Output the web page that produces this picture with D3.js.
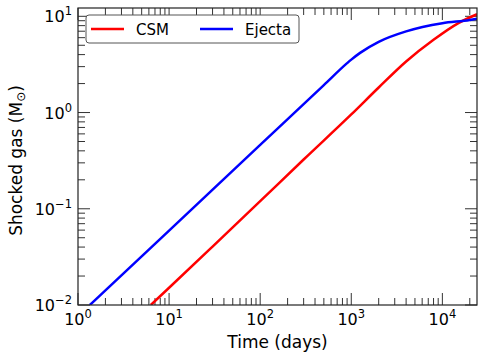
<!DOCTYPE html>
<html>
<head>
<meta charset="utf-8">
<script src="https://cdn.jsdelivr.net/npm/d3@7"></script>
<style>
  body { margin: 0; background: #fff; overflow: hidden; }
  svg { display: block; }
  text { font-family: "DejaVu Sans", sans-serif; fill: #000; }
</style>
</head>
<body>
<svg id="chart"></svg>
<script>
// data (time in days, mass in solar masses)
const csmTime = [6.3, 10, 30, 100, 300, 1000, 2000, 4000, 8000, 15000, 24000];
const csmMass = [0.01, 0.0151, 0.0405, 0.120, 0.325, 0.955, 1.82, 3.39, 5.7, 8.5, 10.5];
const ejectaTime = [1.35, 10, 100, 500, 900, 1000, 1250, 2000, 4000, 10000, 20000, 24000];
const ejectaMass = [0.01, 0.0594, 0.461, 1.93, 3.26, 3.55, 4.17, 5.43, 6.97, 8.47, 9.16, 9.44];
const seriesNames = ["CSM", "Ejecta"];
const seriesColors = ["#ff0000", "#0000ff"];
const xMajor = [0, 1, 2, 3, 4];
const yMajor = [-2, -1, 0, 1];

// dimensions
const width = 485;
const height = 357;
const margin = {top: 8, right: 8, bottom: 52, left: 78};
const innerWidth = width - margin.left - margin.right;
const innerHeight = height - margin.top - margin.bottom;

const svg = d3.select('#chart')
  .attr('width', width)
  .attr('height', height);

// scales
const xScale = d3.scaleLog().domain([1, 24000]).range([0, innerWidth]);
const yScale = d3.scaleLog().domain([0.01, 12.2]).range([innerHeight, 0]);

const g = svg.append('g')
  .attr('transform', `translate(${margin.left}, ${margin.top})`);

g.append('clipPath').attr('id', 'clip')
  .append('rect').attr('width', innerWidth).attr('height', innerHeight);

// minor + major tick values
function logTicks(scale) {
  const [a, b] = scale.domain();
  const out = [];
  for (let e = Math.floor(Math.log10(a)); e <= Math.ceil(Math.log10(b)); e++) {
    for (let m = 1; m < 10; m++) {
      const v = m * Math.pow(10, e);
      if (v >= a * 0.999 && v <= b * 1.001) out.push({v: v, major: m === 1});
    }
  }
  return out;
}
const xTicks = logTicks(xScale);
const yTicks = logTicks(yScale);
const tickColor = '#333';

// ticks (inward, all four sides)
g.selectAll('.xtick-b').data(xTicks).enter().append('line')
  .attr('x1', d => xScale(d.v)).attr('x2', d => xScale(d.v))
  .attr('y1', innerHeight).attr('y2', d => innerHeight - (d.major ? 12 : 7))
  .attr('stroke', tickColor).attr('stroke-width', 1);
g.selectAll('.xtick-t').data(xTicks).enter().append('line')
  .attr('x1', d => xScale(d.v)).attr('x2', d => xScale(d.v))
  .attr('y1', 0).attr('y2', d => d.major ? 12 : 7)
  .attr('stroke', tickColor).attr('stroke-width', 1);
g.selectAll('.ytick-l').data(yTicks).enter().append('line')
  .attr('y1', d => yScale(d.v)).attr('y2', d => yScale(d.v))
  .attr('x1', 0).attr('x2', d => d.major ? 12 : 7)
  .attr('stroke', tickColor).attr('stroke-width', 1);
g.selectAll('.ytick-r').data(yTicks).enter().append('line')
  .attr('y1', d => yScale(d.v)).attr('y2', d => yScale(d.v))
  .attr('x1', innerWidth).attr('x2', d => innerWidth - (d.major ? 12 : 7))
  .attr('stroke', tickColor).attr('stroke-width', 1);

// tick labels
const xLab = g.selectAll('.xlab').data(xMajor).enter().append('text')
  .attr('x', d => xScale(Math.pow(10, d)))
  .attr('y', innerHeight + 20)
  .attr('text-anchor', 'middle')
  .style('font-size', '16px');
xLab.append('tspan').text('10');
xLab.append('tspan').attr('dy', -7).style('font-size', '11.5px').text(d => d < 0 ? '\u2212' + (-d) : d);

const yLab = g.selectAll('.ylab').data(yMajor).enter().append('text')
  .attr('x', -6)
  .attr('y', d => yScale(Math.pow(10, d)) + 6)
  .attr('text-anchor', 'end')
  .style('font-size', '16px');
yLab.append('tspan').text('10');
yLab.append('tspan').attr('dy', -7).style('font-size', '11.5px').text(d => d < 0 ? '\u2212' + (-d) : d);

// axis titles
g.append('text')
  .attr('x', innerWidth / 2)
  .attr('y', innerHeight + 43)
  .attr('text-anchor', 'middle')
  .style('font-size', '17px')
  .text('Time (days)');

const yTitle = svg.append('text')
  .attr('transform', `translate(22, ${margin.top + innerHeight / 2 + 4}) rotate(-90)`)
  .attr('text-anchor', 'middle')
  .style('font-size', '17px');
yTitle.append('tspan').text('Shocked gas (M');
yTitle.append('tspan').attr('dy', 3).style('font-size', '12px').text('\u2299');
yTitle.append('tspan').attr('dy', -3).text(')');

// lines
const line = d3.line()
  .x(d => xScale(d[0]))
  .y(d => yScale(d[1]))
  .curve(d3.curveMonotoneX);

const series = [
  d3.zip(csmTime, csmMass),
  d3.zip(ejectaTime, ejectaMass)
];

g.append('g').attr('clip-path', 'url(#clip)')
  .selectAll('path').data(series).enter().append('path')
  .attr('d', line)
  .attr('fill', 'none')
  .attr('stroke', (d, i) => seriesColors[i])
  .attr('stroke-width', 2.5);

// frame
g.append('rect')
  .attr('width', innerWidth).attr('height', innerHeight)
  .attr('fill', 'none').attr('stroke', '#222').attr('stroke-width', 1.2);

// legend
const legend = svg.append('g').attr('transform', 'translate(86, 15)');
legend.append('rect')
  .attr('width', 213).attr('height', 28).attr('rx', 3)
  .attr('fill', '#fff').attr('stroke', '#555').attr('stroke-width', 1);
const item = legend.selectAll('.item').data(seriesNames).enter().append('g')
  .attr('transform', (d, i) => `translate(${5 + i * 109}, 14)`);
item.append('line')
  .attr('x1', 0).attr('x2', 33)
  .attr('stroke', (d, i) => seriesColors[i]).attr('stroke-width', 2.5);
item.append('text')
  .attr('x', 45).attr('y', 5.5)
  .style('font-size', '15px')
  .text(d => d);
</script>
</body>
</html>
